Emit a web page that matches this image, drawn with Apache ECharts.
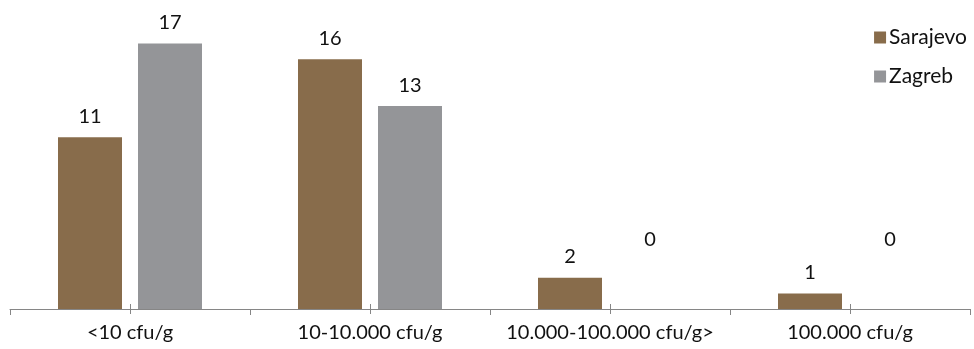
<!DOCTYPE html>
<html>
<head>
<meta charset="utf-8">
<script src="https://cdn.jsdelivr.net/npm/echarts@6/dist/echarts.min.js"></script>
<style>
  html, body { margin: 0; padding: 0; background: #fff; }
  #chart { width: 974px; height: 349px; }
</style>
</head>
<body>
<div id="chart"></div>
<script>
// Counts of samples per contamination range, by city
const categories = ['<10 cfu/g', '10-10.000 cfu/g', '10.000-100.000 cfu/g>', '100.000 cfu/g'];
const sarajevo = [11, 16, 2, 1];
const zagreb = [17, 13, 0, 0];
const seriesNames = ['Sarajevo', 'Zagreb'];

const FONT = 'Lato, "Open Sans", sans-serif';
const FONT_SIZE = 20;
const AXIS_COLOR = '#868686';
const TEXT_COLOR = '#111111';

// Zero-height bars carry their label raised above the baseline
function withLabels(values) {
  return values.map(v => v === 0
    ? { value: v, label: { offset: [0, -48] } }
    : v);
}

const chart = echarts.init(document.getElementById('chart'));

// Extra tick marks at the category centres, crossing the axis line
const centreTicks = (tickInside) => ({
  type: 'category',
  data: categories,
  position: 'bottom',
  offset: 0,
  axisLine: { show: false },
  axisLabel: { show: false },
  axisTick: { show: true, alignWithLabel: true, inside: tickInside, length: 5,
              lineStyle: { color: AXIS_COLOR, width: 1 } },
  splitLine: { show: false }
});

chart.setOption({
  animation: false,
  textStyle: { fontFamily: FONT },
  grid: { left: 10, right: 4, top: 28, bottom: 40 },
  legend: {
    orient: 'vertical',
    right: 2,
    top: 22,
    itemWidth: 12,
    itemHeight: 12,
    itemGap: 18,
    icon: 'rect',
    textStyle: { fontFamily: FONT, fontSize: 21, color: TEXT_COLOR, padding: [0, 0, 0, -2] },
    data: seriesNames
  },
  xAxis: [
    {
      type: 'category',
      data: categories,
      axisLine: { show: true, lineStyle: { color: AXIS_COLOR, width: 1 } },
      axisTick: { show: true, length: 6, lineStyle: { color: AXIS_COLOR, width: 1 } },
      axisLabel: { interval: 0, fontFamily: FONT, fontSize: FONT_SIZE, color: TEXT_COLOR, margin: 14 },
      splitLine: { show: false }
    },
    centreTicks(true),
    centreTicks(false)
  ],
  yAxis: {
    type: 'value',
    min: 0,
    max: 18,
    show: false,
    splitLine: { show: false }
  },
  series: [
    {
      name: seriesNames[0],
      type: 'bar',
      data: withLabels(sarajevo),
      barGap: '25%',
      barCategoryGap: '40%',
      itemStyle: { color: '#886C4B' },
      label: { show: true, position: 'top', distance: 11, fontFamily: FONT, fontSize: FONT_SIZE, color: TEXT_COLOR }
    },
    {
      name: seriesNames[1],
      type: 'bar',
      data: withLabels(zagreb),
      barGap: '25%',
      barCategoryGap: '40%',
      itemStyle: { color: '#949598' },
      label: { show: true, position: 'top', distance: 11, fontFamily: FONT, fontSize: FONT_SIZE, color: TEXT_COLOR }
    }
  ]
});
</script>
</body>
</html>
